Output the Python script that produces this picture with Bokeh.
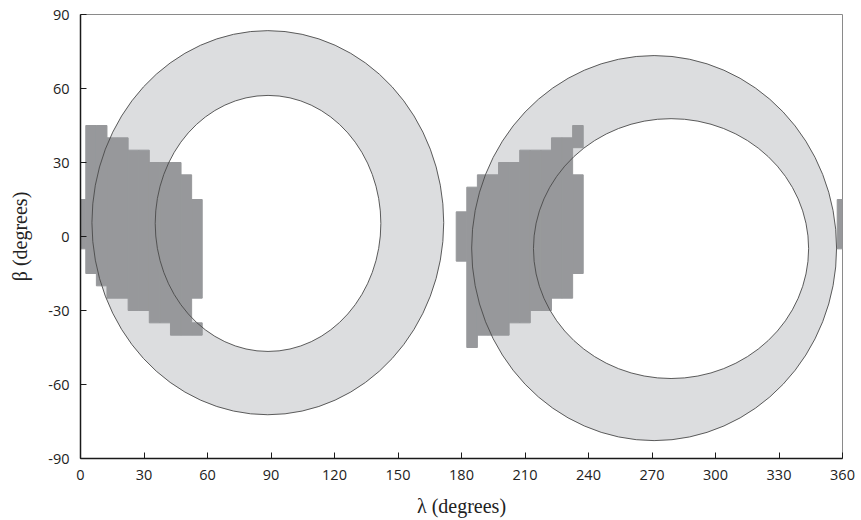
from bokeh.plotting import figure
from bokeh.models import Range1d, FixedTicker
from bokeh.embed import file_html
from bokeh.resources import INLINE

# Two annular bands (ellipses in lambda-beta space): centre, full width, full height
outer_lam = [88.5, 271.0]
outer_beta = [5.6, -4.7]
outer_w = [166.2, 172.4]
outer_h = [155.8, 156.1]
inner_lam = [88.6, 279.0]
inner_beta = [5.3, -4.9]
inner_w = [106.6, 130.0]
inner_h = [103.8, 105.4]

# Dark-gray 5-degree grid columns: lambda centre, beta bottom, beta top
cell_lam = [0, 5, 10, 15, 20, 25, 30, 35, 40, 45, 50, 55, 55,
            180, 185, 190, 195, 200, 205, 210, 215, 220, 225, 230, 235, 235,
            360]
cell_bottom = [-5, -15, -20, -25, -25, -30, -30, -35, -35, -40, -40, -25, -40,
               -10, -45, -40, -40, -40, -35, -35, -30, -30, -25, -25, -15, 36,
               -5]
cell_top = [15, 45, 45, 40, 40, 35, 35, 30, 30, 30, 25, 15, -35,
            10, 20, 25, 25, 30, 30, 35, 35, 35, 40, 40, 25, 45,
            15]
cell_width = 5.0

x_ticks = [0, 30, 60, 90, 120, 150, 180, 210, 240, 270, 300, 330, 360]
y_ticks = [-90, -60, -30, 0, 30, 60, 90]
y_tick_labels = ["-90", "-60", "-30", "0", "30", "60", "90"]

LIGHT = "#dcdddf"
DARK = "#97989b"
EDGE = "#4a4a4a"

p = figure(width=855, height=520, output_backend="svg", toolbar_location=None,
           x_range=Range1d(0, 360), y_range=Range1d(-90, 90),
           min_border_left=80, min_border_right=13, min_border_top=14,
           min_border_bottom=62)

# ring fill
p.ellipse(x=outer_lam, y=outer_beta, width=outer_w, height=outer_h,
          fill_color=LIGHT, line_color=None)
p.ellipse(x=inner_lam, y=inner_beta, width=inner_w, height=inner_h,
          fill_color="white", line_color=None)

# dark grid cells
left = [l - cell_width / 2 for l in cell_lam]
right = [l + cell_width / 2 for l in cell_lam]
p.quad(left=left, right=right, bottom=cell_bottom, top=cell_top,
       fill_color=DARK, line_color=DARK, line_width=1)

# ring outlines on top
p.ellipse(x=outer_lam, y=outer_beta, width=outer_w, height=outer_h,
          fill_color=None, line_color=EDGE, line_width=0.9)
p.ellipse(x=inner_lam, y=inner_beta, width=inner_w, height=inner_h,
          fill_color=None, line_color=EDGE, line_width=0.9)

p.xgrid.visible = False
p.ygrid.visible = False
p.outline_line_color = "#8a8a8a"
p.outline_line_width = 1
p.background_fill_color = "white"

for ax in (p.xaxis[0], p.yaxis[0]):
    ax.axis_line_color = "#1a1a1a"
    ax.axis_line_width = 1.5
    ax.major_tick_line_color = "#1a1a1a"
    ax.major_tick_line_width = 1
    ax.major_tick_in = 6
    ax.major_tick_out = 0
    ax.minor_tick_line_color = None
    ax.major_label_text_font = "Open Sans"
    ax.major_label_text_font_size = "14.5px"
    ax.major_label_text_color = "#222222"
    ax.axis_label_text_font = "Liberation Serif"
    ax.axis_label_text_font_size = "20px"
    ax.axis_label_text_font_style = "normal"
    ax.axis_label_text_color = "#222222"

p.xaxis.ticker = FixedTicker(ticks=x_ticks)
p.yaxis.ticker = FixedTicker(ticks=y_ticks)
p.yaxis.major_label_overrides = dict(zip(y_ticks, y_tick_labels))
p.xaxis.axis_label = "λ (degrees)"
p.yaxis.axis_label = "β (degrees)"
p.xaxis.major_label_standoff = 11
p.yaxis.major_label_standoff = 11
p.xaxis.axis_label_standoff = 12
p.yaxis.axis_label_standoff = 14

open("out.html", "w").write(file_html(p, INLINE))
